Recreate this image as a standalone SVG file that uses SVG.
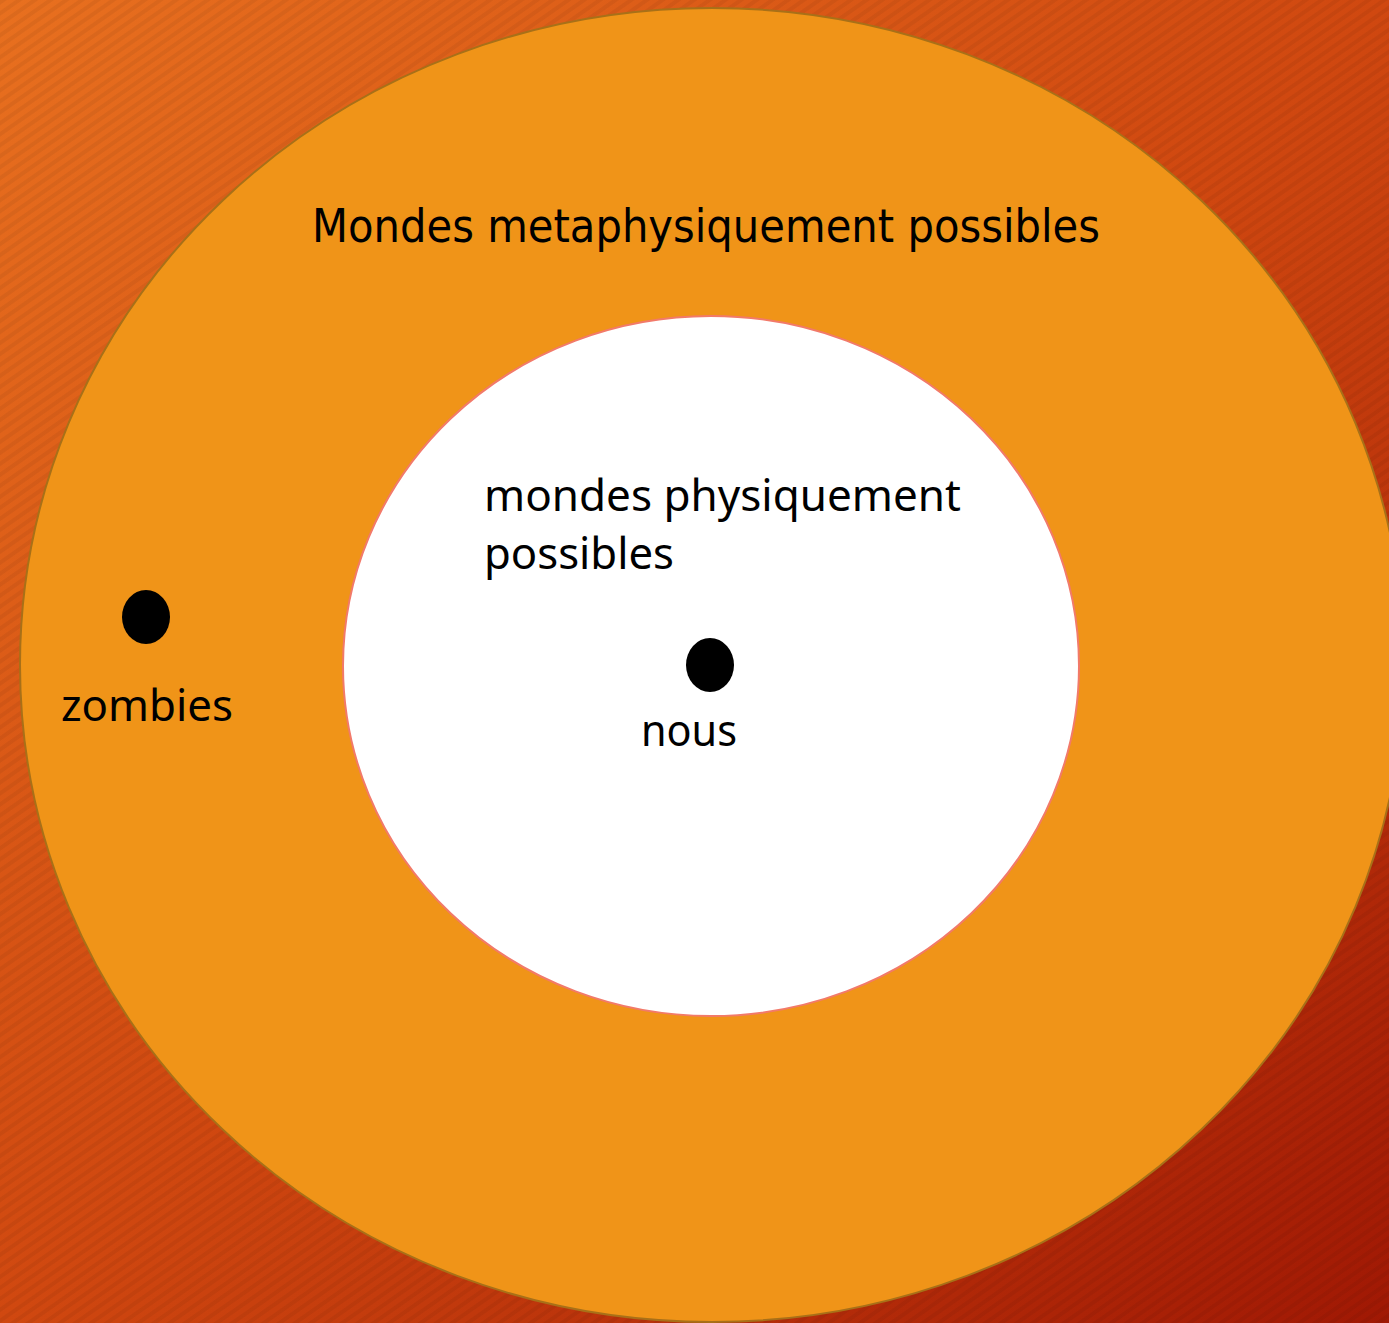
<svg xmlns="http://www.w3.org/2000/svg" width="1389" height="1323" viewBox="0 0 1389 1323">
  <defs>
    <linearGradient id="bg" x1="0" y1="0" x2="1" y2="1">
      <stop offset="0" stop-color="#e8701f"/>
      <stop offset="0.5" stop-color="#d04810"/>
      <stop offset="1" stop-color="#a01804"/>
    </linearGradient>
    <pattern id="stripes" width="9" height="9" patternUnits="userSpaceOnUse" patternTransform="rotate(-35)">
      <rect width="9" height="4" fill="#000" opacity="0.05"/>
    </pattern>
    <style>
      .lbl { font-family: "Noto Sans", "Open Sans", sans-serif; font-size: 44px; fill: #000; }
      .title { font-family: "DejaVu Sans", sans-serif; font-stretch: condensed; font-size: 46px; fill: #000; }
      .dot { fill: #000; }
    </style>
  </defs>

  <!-- background -->
  <rect width="1389" height="1323" fill="url(#bg)"/>
  <rect width="1389" height="1323" fill="url(#stripes)"/>

  <g id="metaphysical">
    <ellipse cx="712" cy="665" rx="692" ry="657" fill="#f09418" stroke="#a87018" stroke-width="2"/>
    <text class="title" x="312" y="242" textLength="788" lengthAdjust="spacingAndGlyphs">Mondes metaphysiquement possibles</text>
  </g>

  <g id="physical">
    <ellipse cx="711" cy="666" rx="368" ry="350" fill="#ffffff" stroke="#f27a6a" stroke-width="2"/>
    <text class="lbl" x="484" y="511" textLength="477" lengthAdjust="spacingAndGlyphs">mondes physiquement</text>
    <text class="lbl" x="484" y="569" textLength="190" lengthAdjust="spacingAndGlyphs">possibles</text>
  </g>

  <g id="zombies">
    <ellipse class="dot" cx="146" cy="617" rx="24" ry="27"/>
    <text class="lbl" x="61" y="721" textLength="172" lengthAdjust="spacingAndGlyphs">zombies</text>
  </g>

  <g id="nous">
    <ellipse class="dot" cx="710" cy="665" rx="24" ry="27"/>
    <text class="lbl" x="641" y="746" textLength="96" lengthAdjust="spacingAndGlyphs">nous</text>
  </g>

  <g id="connectors"/>
</svg>
